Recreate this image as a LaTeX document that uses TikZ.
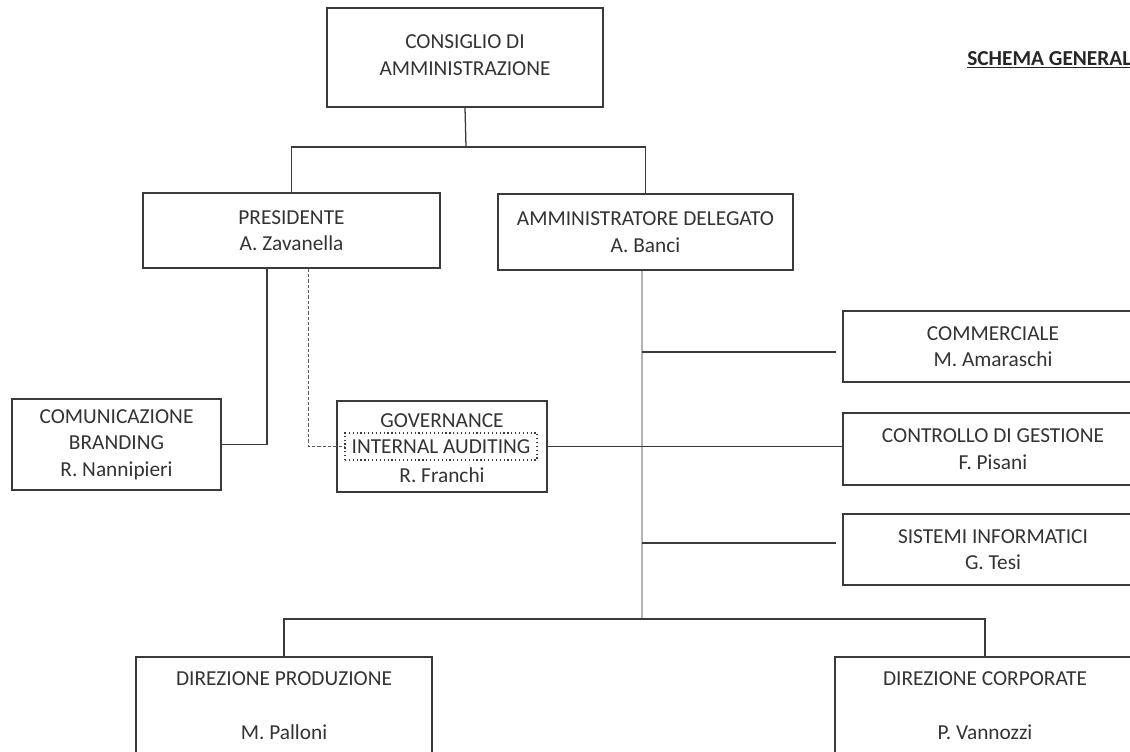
\documentclass[tikz,border=0pt]{standalone}
\usepackage{fontspec}
\setmainfont{Carlito}
\usetikzlibrary{calc}
\newdimen\pxu \pxu=0.75pt
\definecolor{ln}{HTML}{3A3A3A}
\definecolor{tx}{HTML}{333333}
\definecolor{trk}{HTML}{B4B4B4}
\definecolor{dsh}{HTML}{5A5A5A}
\begin{document}
\begin{tikzpicture}[x=0.75pt,y=-0.75pt,
 box/.style={draw=ln, line width=1.1pt, fill=white, text=tx, align=center, inner sep=0pt, font=\fontsize{16}{20}\selectfont},
 conn/.style={draw=ln, line width=0.95pt},
 lbl/.style={text=tx, font=\fontsize{16}{20}\selectfont, inner sep=0pt},
 dotbox/.style={draw=ln, line width=0.9pt, dotted, text=tx, inner sep=0pt, font=\fontsize{16}{20}\selectfont},
]
\useasboundingbox (0,0) rectangle (1130,751);
\clip (0,0) rectangle (1130,751);

% boxes
\node[box, minimum width=276\pxu, minimum height=99\pxu] (cda) at (465,57.5) {};
\node[lbl, align=center] (cdat) at (465,55) {CONSIGLIO DI\\AMMINISTRAZIONE};
\node[box, minimum width=297\pxu, minimum height=75\pxu] (pres) at (291.5,230.5) {PRESIDENTE\\A. Zavanella};
\node[box, minimum width=295\pxu, minimum height=76\pxu] (ad) at (645.5,232) {AMMINISTRATORE DELEGATO\\A. Banci};
\node[box, minimum width=209\pxu, minimum height=91\pxu] (com) at (116.5,444.5) {COMUNICAZIONE\\BRANDING\\R. Nannipieri};
\node[box, minimum width=210\pxu, minimum height=91\pxu] (gov) at (442,446.5) {};
\node[lbl] (govt) at (442,421) {GOVERNANCE};
\node[dotbox, minimum width=192\pxu, minimum height=27\pxu] (ia) at (441,446.5) {INTERNAL AUDITING};
\node[lbl] (govn) at (442,475) {R. Franchi};
\node[box, minimum width=300\pxu, minimum height=71\pxu] (comm) at (993,346.5) {COMMERCIALE\\M. Amaraschi};
\node[box, minimum width=300\pxu, minimum height=72\pxu] (ctrl) at (993,449) {CONTROLLO DI GESTIONE\\F. Pisani};
\node[box, minimum width=300\pxu, minimum height=71\pxu] (sis) at (993,549.5) {SISTEMI INFORMATICI\\G. Tesi};
\node[box, minimum width=296\pxu, minimum height=97\pxu] (dp) at (284,705.5) {DIREZIONE PRODUZIONE\\[21pt]M. Palloni};
\node[box, minimum width=300\pxu, minimum height=97\pxu] (dc) at (985,705.5) {DIREZIONE CORPORATE\\[21pt]P. Vannozzi};

\node[anchor=base west, inner sep=0pt, text=black!85, font=\fontsize{16}{20}\selectfont\bfseries] (title) at (967,65) {\underline{SCHEMA GENERAL}};

% coordinates
\coordinate (bus1) at (466,147);
\coordinate (trunk) at (642,619);
\coordinate (c1) at (642,352);
\coordinate (c3) at (642,543);

% connectors
\draw[draw=trk, line width=1.1pt] (ad.south -| trunk) -- (trunk);
\draw[conn] (cda.south) -- (bus1);
\draw[conn] (pres.north) |- (bus1) -| (ad.north);
\draw[conn] ([xshift=-24.5\pxu]pres.south) |- (com.east);
\draw[draw=dsh, line width=0.85pt, dash pattern=on 2.5pt off 1.5pt] ([xshift=17\pxu]pres.south) |- (ia.west);
\draw[conn] (gov.east) -- (gov.east -| ctrl.west);
\draw[conn, shorten >=6\pxu] (c1) -- (c1 -| comm.west);
\draw[conn, shorten >=6\pxu] (c3) -- (c3 -| sis.west);
\draw[conn] (dp.north) |- (trunk) -| (dc.north);
\end{tikzpicture}
\end{document}
